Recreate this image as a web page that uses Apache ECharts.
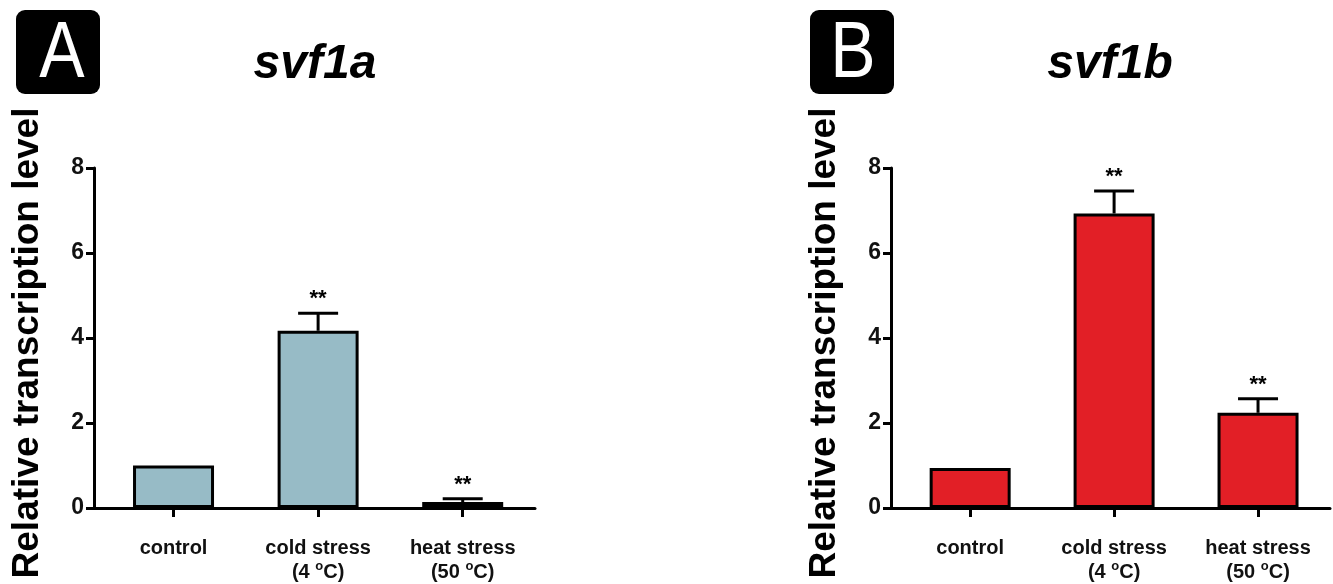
<!DOCTYPE html>
<html>
<head>
<meta charset="utf-8">
<title>svf1a / svf1b</title>
<script src="https://cdn.jsdelivr.net/npm/echarts@6/dist/echarts.min.js"></script>
<style>
  html, body { margin: 0; padding: 0; background: #fff; }
  #main { width: 1333px; height: 584px; }
</style>
</head>
<body>
<div id="main"></div>
<script>
// categories and values
var categories = ['control', 'cold stress\n(4 {sup|o}C)', 'heat stress\n(50 {sup|o}C)'];
var yTicks = [0, 2, 4, 6, 8];

var meanA = [1.0, 4.17, 0.14];
var errA = [0, 0.41, 0.08];
var sigA = ['', '**', '**'];

var meanB = [0.94, 6.93, 2.24];
var errB = [0, 0.53, 0.33];
var sigB = ['', '**', '**'];

var FONT = '"Liberation Sans", Arial, sans-serif';

var myChart = echarts.init(document.getElementById('main'));

function barData(means) {
    return means.map(function (v, i) { return [i, v]; });
}
function errData(means, errs) {
    return means.map(function (v, i) { return [i, v, errs[i]]; });
}

// upper half error bar + significance stars
function errRender(sig) {
    return function (params, api) {
        var m = api.value(1), e = api.value(2);
        var base = api.coord([api.value(0), m]);
        var top = api.coord([api.value(0), m + e]);
        var children = [];
        if (e > 0) {
            children.push({
                type: 'line',
                shape: { x1: base[0], y1: base[1], x2: top[0], y2: top[1] },
                style: { stroke: '#000', lineWidth: 3 }
            });
            children.push({
                type: 'line',
                shape: { x1: top[0] - 20, y1: top[1], x2: top[0] + 20, y2: top[1] },
                style: { stroke: '#000', lineWidth: 3 }
            });
        }
        var s = sig[params.dataIndex];
        if (s) {
            children.push({
                type: 'text',
                x: top[0],
                y: top[1] - 3,
                style: {
                    text: s, fill: '#000',
                    font: 'bold 22px ' + FONT,
                    align: 'center', verticalAlign: 'bottom'
                }
            });
        }
        return { type: 'group', children: children };
    };
}

function xAxisOf(gridIndex) {
    return {
        type: 'value',
        gridIndex: gridIndex,
        min: -0.55,
        max: 2.5,
        splitLine: { show: false },
        axisLine: { onZero: false, lineStyle: { color: '#000', width: 3 } },
        axisTick: { customValues: [0, 1, 2], length: 9, lineStyle: { color: '#000', width: 3 } },
        axisLabel: {
            customValues: [0, 1, 2],
            formatter: function (v) { return categories[Math.round(v)]; },
            margin: 28,
            color: '#111',
            fontFamily: FONT,
            fontWeight: 'bold',
            fontSize: 20,
            lineHeight: 24,
            rich: {
                sup: { fontSize: 13, fontWeight: 'bold', fontFamily: FONT, color: '#111', verticalAlign: 'top', lineHeight: 14 }
            }
        }
    };
}

function yAxisOf(gridIndex) {
    return {
        type: 'value',
        gridIndex: gridIndex,
        min: 0,
        max: 8,
        interval: 2,
        name: 'Relative transcription level',
        nameLocation: 'middle',
        nameGap: 48,
        nameTextStyle: { color: '#000', fontFamily: FONT, fontWeight: 'bold', fontSize: 37, padding: [0, 10, 0, 0] },
        splitLine: { show: false },
        axisLine: { show: true, onZero: false, lineStyle: { color: '#000', width: 3 } },
        axisTick: { show: true, length: 8, lineStyle: { color: '#000', width: 3 } },
        axisLabel: {
            margin: 10,
            color: '#111',
            fontFamily: FONT,
            fontWeight: 'bold',
            fontSize: 23,
            formatter: function (v) { return yTicks.indexOf(v) >= 0 ? String(v) : ''; }
        }
    };
}

var option = {
    animation: false,
    backgroundColor: '#fff',
    grid: [
        { left: 94, top: 168, width: 441, height: 341 },
        { left: 891, top: 168, width: 439, height: 341 }
    ],
    xAxis: [xAxisOf(0), xAxisOf(1)],
    yAxis: [yAxisOf(0), yAxisOf(1)],
    graphic: [
        { type: 'rect', left: 16, top: 10, shape: { width: 84, height: 84, r: 9 }, style: { fill: '#000' } },
        { type: 'text', x: 62, y: 55, scaleX: 0.85, style: { text: 'A', fill: '#fff', font: '80px ' + FONT, align: 'center', verticalAlign: 'middle' } },
        { type: 'rect', left: 810, top: 10, shape: { width: 84, height: 84, r: 9 }, style: { fill: '#000' } },
        { type: 'text', x: 853, y: 55, scaleX: 0.85, style: { text: 'B', fill: '#fff', font: '80px ' + FONT, align: 'center', verticalAlign: 'middle' } },
        { type: 'text', x: 315, y: 65, style: { text: 'svf1a', fill: '#000', font: 'italic bold 48px ' + FONT, align: 'center', verticalAlign: 'middle' } },
        { type: 'text', x: 1110, y: 65, style: { text: 'svf1b', fill: '#000', font: 'italic bold 48px ' + FONT, align: 'center', verticalAlign: 'middle' } }
    ],
    series: [
        {
            name: 'svf1a',
            type: 'bar',
            xAxisIndex: 0, yAxisIndex: 0,
            barWidth: 81,
            data: barData(meanA),
            itemStyle: { color: '#97BBC6', borderColor: '#000', borderWidth: 3 }
        },
        {
            name: 'svf1a error',
            type: 'custom',
            xAxisIndex: 0, yAxisIndex: 0,
            renderItem: errRender(sigA),
            data: errData(meanA, errA),
            z: 3
        },
        {
            name: 'svf1b',
            type: 'bar',
            xAxisIndex: 1, yAxisIndex: 1,
            barWidth: 81,
            data: barData(meanB),
            itemStyle: { color: '#E21F26', borderColor: '#000', borderWidth: 3 }
        },
        {
            name: 'svf1b error',
            type: 'custom',
            xAxisIndex: 1, yAxisIndex: 1,
            renderItem: errRender(sigB),
            data: errData(meanB, errB),
            z: 3
        }
    ]
};
myChart.setOption(option);
</script>
</body>
</html>
